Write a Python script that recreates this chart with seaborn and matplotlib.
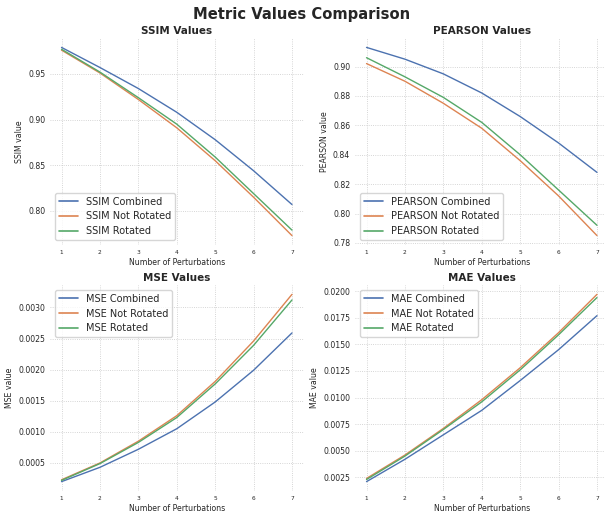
import numpy as np
import pandas as pd
import matplotlib
matplotlib.use("Agg")
import matplotlib.pyplot as plt
import seaborn as sns

sns.set_theme(style="whitegrid", palette="deep")
plt.rcParams['font.family'] = ['DejaVu Sans']

perturbations = [1, 2, 3, 4, 5, 6, 7]
variants = ["Combined", "Not Rotated", "Rotated"]

ssim_combined = [0.979, 0.957, 0.934, 0.908, 0.878, 0.844, 0.807]
ssim_not_rotated = [0.976, 0.951, 0.922, 0.891, 0.855, 0.815, 0.773]
ssim_rotated = [0.977, 0.952, 0.924, 0.895, 0.859, 0.819, 0.779]

pearson_combined = [0.913, 0.905, 0.895, 0.882, 0.866, 0.848, 0.828]
pearson_not_rotated = [0.902, 0.890, 0.875, 0.858, 0.836, 0.812, 0.785]
pearson_rotated = [0.906, 0.893, 0.879, 0.862, 0.840, 0.816, 0.792]

mse_combined = [0.00020, 0.00043, 0.00072, 0.00105, 0.00148, 0.00199, 0.00259]
mse_not_rotated = [0.00023, 0.00050, 0.00085, 0.00126, 0.00181, 0.00246, 0.00321]
mse_rotated = [0.00022, 0.00049, 0.00083, 0.00123, 0.00177, 0.00239, 0.00312]

mae_combined = [0.0021, 0.0042, 0.0065, 0.0088, 0.0116, 0.0145, 0.0177]
mae_not_rotated = [0.0024, 0.0046, 0.0071, 0.0098, 0.0128, 0.0161, 0.0197]
mae_rotated = [0.0023, 0.0045, 0.0070, 0.0096, 0.0126, 0.0159, 0.0194]

metrics = {
    "SSIM": [ssim_combined, ssim_not_rotated, ssim_rotated],
    "PEARSON": [pearson_combined, pearson_not_rotated, pearson_rotated],
    "MSE": [mse_combined, mse_not_rotated, mse_rotated],
    "MAE": [mae_combined, mae_not_rotated, mae_rotated],
}
legend_loc = {"SSIM": "lower left", "PEARSON": "lower left",
              "MSE": "upper left", "MAE": "upper left"}

W, H = 604, 516
fig = plt.figure(figsize=(6.04, 5.16), dpi=100)
fig.suptitle("Metric Values Comparison", fontsize=10.6, fontweight="bold",
             y=1 - 15 / H, va="center")

# axes boxes in pixels: left, top, right, bottom
boxes = [(50, 38, 303.5, 245), (355, 38, 608.5, 245),
         (50, 285, 303.5, 491), (355, 285, 608.5, 491)]

for box, (name, series) in zip(boxes, metrics.items()):
    l, t, r, b = box
    ax = fig.add_axes([l / W, 1 - b / H, (r - l) / W, (b - t) / H])
    rows = []
    for variant, vals in zip(variants, series):
        for p, v in zip(perturbations, vals):
            rows.append({"p": p, "value": v, "label": f"{name} {variant}"})
    df = pd.DataFrame(rows)
    sns.lineplot(data=df, x="p", y="value", hue="label", ax=ax, linewidth=1.0)
    ax.set_title(f"{name} Values", fontsize=7.5, fontweight="bold", pad=3)
    ax.set_xlabel("Number of Perturbations", fontsize=5.6, labelpad=2)
    ax.set_ylabel(f"{name} value", fontsize=5.6, labelpad=3)
    ax.tick_params(axis="x", labelsize=4.2, length=0, pad=3.5)
    ax.tick_params(axis="y", labelsize=5.6, length=0, pad=3.5)
    ax.grid(True, linestyle=":", linewidth=0.6, color="#c8c8c8")
    for s in ax.spines.values():
        s.set_visible(False)
    leg = ax.legend(title=None, loc=legend_loc[name], fontsize=7)
    for line in leg.get_lines():
        line.set_linewidth(1.2)

plt.savefig("out.png", dpi=100)
